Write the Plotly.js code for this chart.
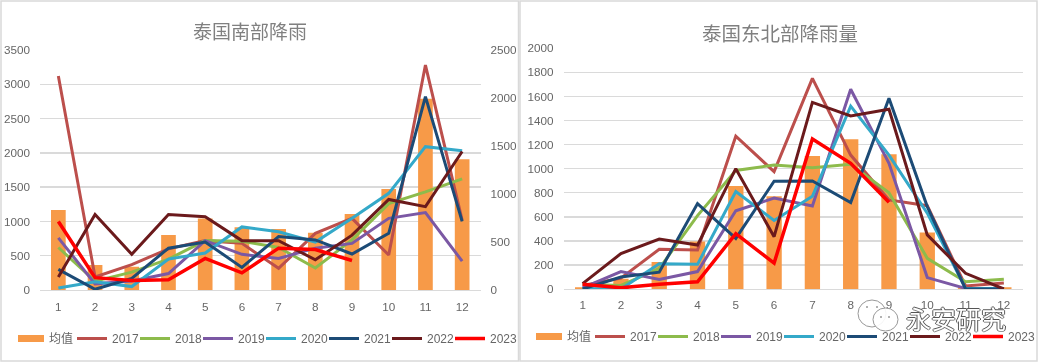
<!DOCTYPE html>
<html><head><meta charset="utf-8">
<script src="https://cdn.plot.ly/plotly-3.0.1.min.js"></script>
<style>html,body{margin:0;padding:0;background:#fff}#c{width:1038px;height:363px;filter:blur(0.35px)}
.scrollbox{clip-path:none !important}
.legendpoints path{visibility:hidden}</style>
</head><body><div id="c"></div>
<script>
const months=[1,2,3,4,5,6,7,8,9,10,11,12];
const seriesNames=['2017','2018','2019','2020','2021','2022','2023'];
const seriesColors=['#BC4F4C','#8DBB4C','#7B58A4','#34A9C9','#1C4B76','#6B1A1C','#FF0000'];
const barColor='#F79A48';
const southAvg=[833,260,243,573,746,653,635,597,792,1052,1993,1361];
const south2017=[3120,190,370,600,720,680,316,826,1045,510,3280,1020];
const south2018=[620,130,260,450,720,710,620,320,730,1260,1430,1620];
const south2019=[760,90,130,240,720,520,460,610,680,1045,1130,420];
const south2020=[30,120,50,450,540,920,850,700,1045,1410,2090,2030];
const south2021=[300,10,170,610,700,330,780,730,525,826,2820,1000];
const south2022=[190,1100,520,1100,1070,720,720,440,800,1320,1215,2020];
const south2023=[1000,180,140,150,460,250,610,590,430];
const northAvg=[15,85,225,395,855,770,1105,1244,1120,470,8,15];
const north2017=[30,90,330,325,1270,975,1750,1113,740,692,25,50];
const north2018=[40,30,170,610,985,1030,1008,1036,800,255,60,80];
const north2019=[10,145,80,145,650,755,690,1660,1045,95,5,5];
const north2020=[5,0,210,205,810,570,770,1520,1113,630,5,5];
const north2021=[0,100,140,710,420,895,897,718,1585,685,0,0];
const north2022=[45,295,415,365,1000,435,1550,1438,1493,450,130,0];
const north2023=[40,10,40,60,460,215,1246,1044,720];
const southLines=[south2017,south2018,south2019,south2020,south2021,south2022,south2023];
const northLines=[north2017,north2018,north2019,north2020,north2021,north2022,north2023];
const W=1038,H=363,B=50;
const px=v=>v/W, py=v=>(H-B-v)/(H-B);
const traces=[];
traces.push({type:'bar',x:months,y:southAvg,name:'均值',xaxis:'x',yaxis:'y',marker:{color:barColor},width:0.4,legend:'legend'});
southLines.forEach((d,i)=>traces.push({type:'scatter',mode:'lines',x:months,y:d,name:seriesNames[i],xaxis:'x',yaxis:'y2',line:{color:seriesColors[i],width:i==6?3.5:3},legend:'legend'}));
traces.push({type:'bar',x:months,y:northAvg,name:'均值',xaxis:'x2',yaxis:'y3',marker:{color:barColor},width:0.4,legend:'legend2'});
northLines.forEach((d,i)=>traces.push({type:'scatter',mode:'lines',x:months,y:d,name:seriesNames[i],xaxis:'x2',yaxis:'y3',line:{color:seriesColors[i],width:i==6?3.5:3},legend:'legend2'}));
const tick={family:'"Liberation Sans",Arial,sans-serif',size:11.7,color:'#666'};
const grid='#DADADA';
const legendCfg=(x,y)=>({orientation:'h',x:px(x),xanchor:'left',y:py(y),yanchor:'top',bgcolor:'rgba(0,0,0,0)',font:{family:'"Liberation Sans","Noto Sans CJK SC",sans-serif',size:12,color:'#666'},itemwidth:30,entrywidth:18,entrywidthmode:'pixels',traceorder:'normal'});
const sw=(x0,y0)=>({type:'rect',xref:'paper',yref:'paper',x0:px(x0),x1:px(x0+26),y0:py(y0),y1:py(y0+7),fillcolor:barColor,line:{width:0},layer:'below'});
const ell=(a,b,c,d,fill)=>({type:'circle',xref:'paper',yref:'paper',x0:px(a),x1:px(b),y0:py(c),y1:py(d),fillcolor:fill||'rgba(255,255,255,0.9)',line:{color:'#999',width:fill?0:1}});
const layout={
 width:W,height:H,margin:{l:0,r:0,t:0,b:B},paper_bgcolor:'#fff',plot_bgcolor:'rgba(0,0,0,0)',showlegend:true,barmode:'overlay',
 xaxis:{domain:[px(40),px(480.5)],range:[0.5,12.5],anchor:'y',tickvals:months,showgrid:false,ticks:'',tickfont:tick,showline:true,linecolor:grid,linewidth:1,zeroline:false,ticklabelstandoff:6},
 yaxis:{domain:[py(290),py(50)],range:[0,2500],side:'right',dtick:500,anchor:'x',tickfont:tick,showgrid:false,zeroline:false,ticks:'',tickformat:'d',ticklabelstandoff:9},
 yaxis2:{domain:[py(290),py(50)],range:[0,3500],overlaying:'y',side:'left',anchor:'x',dtick:500,tickfont:tick,gridcolor:grid,gridwidth:1.5,zeroline:false,ticks:'',tickformat:'d',ticklabelstandoff:9},
 xaxis2:{domain:[px(563.5),px(1023)],range:[0.5,12.5],anchor:'y3',tickvals:months,showgrid:false,ticks:'',tickfont:tick,showline:true,linecolor:grid,linewidth:1,zeroline:false,ticklabelstandoff:5},
 yaxis3:{domain:[py(289),py(48.3)],range:[0,2000],dtick:200,anchor:'x2',tickfont:tick,gridcolor:grid,gridwidth:1.5,zeroline:false,ticks:'',tickformat:'d',ticklabelstandoff:9},
 legend:legendCfg(9,324),legend2:legendCfg(527,322),
 annotations:[
  {text:'泰国南部降雨',xref:'paper',yref:'paper',x:px(250),y:py(31),xanchor:'center',yanchor:'middle',showarrow:false,font:{family:'"Noto Sans CJK SC",sans-serif',size:19,color:'#808080'}},
  {text:'泰国东北部降雨量',xref:'paper',yref:'paper',x:px(780),y:py(32),xanchor:'center',yanchor:'middle',showarrow:false,font:{family:'"Noto Sans CJK SC",sans-serif',size:19.5,color:'#808080'}},
  {text:'永安研究',xref:'paper',yref:'paper',x:px(956),y:py(318),xanchor:'center',yanchor:'middle',showarrow:false,font:{family:'"Noto Sans CJK SC",sans-serif',size:25,color:'#fff',shadow:'-1px 0 #555,1px 0 #555,0 -1px #555,0 1px #999'}}
 ],
 shapes:[
  {type:'rect',xref:'paper',yref:'paper',x0:px(1),x1:px(518.5),y0:py(1),y1:py(361),line:{color:'#D9D9D9',width:1.5},layer:'below'},
  {type:'rect',xref:'paper',yref:'paper',x0:px(520),x1:px(1037),y0:py(1),y1:py(361),line:{color:'#D9D9D9',width:1.5},layer:'below'},
  sw(18,335),sw(536,333),
  ell(858,886,300,327),ell(873,898,308,331),
  ell(866,868,306,308,'#999'),ell(876,878,306,308,'#999'),ell(880,882,316,318,'#999'),ell(888,890,316,318,'#999')
 ]
};
Plotly.newPlot('c',traces,layout,{displayModeBar:false,staticPlot:true});
</script></body></html>
